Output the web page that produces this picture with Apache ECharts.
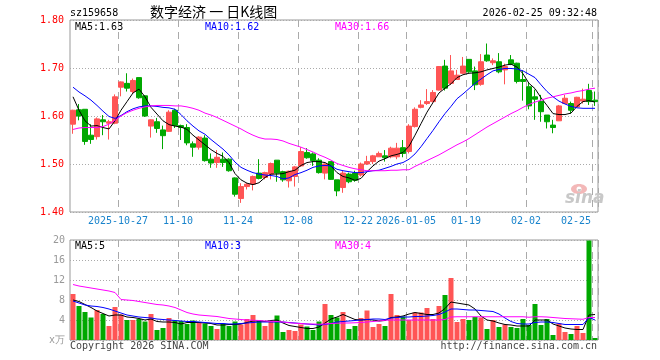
<!DOCTYPE html>
<html><head><meta charset="utf-8">
<script src="https://cdn.jsdelivr.net/npm/echarts@6/dist/echarts.min.js"></script>
<style>html,body{margin:0;padding:0;background:#fff;}#c{width:660px;height:360px;}</style>
</head><body><div id="c"></div>
<script>
const dates = ['2025-10-15','2025-10-16','2025-10-17','2025-10-20','2025-10-21','2025-10-22','2025-10-23','2025-10-24',
'2025-10-27','2025-10-28','2025-10-29','2025-10-30','2025-10-31','2025-11-03','2025-11-04','2025-11-05','2025-11-06','2025-11-07',
'2025-11-10','2025-11-11','2025-11-12','2025-11-13','2025-11-14','2025-11-17','2025-11-18','2025-11-19','2025-11-20','2025-11-21',
'2025-11-24','2025-11-25','2025-11-26','2025-11-27','2025-11-28','2025-12-01','2025-12-02','2025-12-03','2025-12-04','2025-12-05',
'2025-12-08','2025-12-09','2025-12-10','2025-12-11','2025-12-12','2025-12-15','2025-12-16','2025-12-17','2025-12-18','2025-12-19',
'2025-12-22','2025-12-23','2025-12-24','2025-12-25','2025-12-26','2025-12-29','2025-12-30','2025-12-31',
'2026-01-05','2026-01-06','2026-01-07','2026-01-08','2026-01-09','2026-01-12','2026-01-13','2026-01-14','2026-01-15','2026-01-16',
'2026-01-19','2026-01-20','2026-01-21','2026-01-22','2026-01-23','2026-01-26','2026-01-27','2026-01-28','2026-01-29','2026-01-30',
'2026-02-02','2026-02-03','2026-02-04','2026-02-05','2026-02-06','2026-02-09','2026-02-10','2026-02-11','2026-02-12','2026-02-13',
'2026-02-24','2026-02-25'];

const tickDates = ['2025-10-27','2025-11-10','2025-11-24','2025-12-08','2025-12-22','2026-01-05','2026-01-19','2026-02-02','2026-02-25'];
const tickLabels = ['2025-10-27','11-10','11-24','12-08','12-22','2026-01-05','01-19','02-02','02-25'];

const open  = [1.583,1.613,1.614,1.560,1.557,1.592,1.585,1.585,1.660,1.668, 1.651,1.680,1.642,1.579,1.588,1.571,1.568,1.612,1.580,1.576,
1.542,1.535,1.554,1.510,1.503,1.510,1.510,1.471,1.428,1.453, 1.458,1.481,1.472,1.479,1.508,1.484,1.465,1.474,1.496,1.524,
1.521,1.508,1.481,1.505,1.467,1.451,1.479,1.481,1.477,1.500, 1.505,1.515,1.517,1.515,1.515,1.534,1.526,1.578,1.618,1.626,
1.630,1.654,1.704,1.668,1.676,1.689,1.718,1.694,1.666,1.727, 1.711,1.713,1.696,1.717,1.710,1.676,1.661,1.640,1.630,1.602,
1.581,1.590,1.626,1.626,1.619,1.631,1.653,1.633];
const close = [1.612,1.600,1.547,1.551,1.594,1.588,1.588,1.640,1.671,1.658, 1.674,1.638,1.600,1.592,1.574,1.559,1.608,1.580,1.576,1.544,
1.535,1.556,1.507,1.502,1.514,1.503,1.486,1.437,1.453,1.458, 1.474,1.470,1.482,1.501,1.481,1.467,1.485,1.494,1.526,1.513,
1.507,1.482,1.500,1.468,1.444,1.481,1.463,1.466,1.500,1.505, 1.517,1.522,1.513,1.533,1.533,1.522,1.579,1.614,1.623,1.630,
1.649,1.703,1.658,1.694,1.685,1.704,1.692,1.665,1.713,1.715, 1.715,1.692,1.703,1.708,1.672,1.672,1.621,1.635,1.609,1.588,
1.576,1.621,1.637,1.612,1.639,1.635,1.630,1.630];
const low   = [1.563,1.591,1.540,1.542,1.551,1.560,1.551,1.583,1.641,1.651, 1.647,1.636,1.598,1.555,1.565,1.531,1.567,1.575,1.550,1.539,
1.515,1.530,1.505,1.492,1.492,1.494,1.484,1.432,1.419,1.447, 1.445,1.468,1.468,1.468,1.463,1.463,1.451,1.453,1.494,1.511,
1.496,1.480,1.468,1.467,1.433,1.440,1.460,1.463,1.474,1.498, 1.500,1.515,1.505,1.512,1.510,1.514,1.522,1.576,1.616,1.623,
1.628,1.653,1.653,1.665,1.675,1.688,1.690,1.654,1.663,1.713, 1.706,1.689,1.666,1.706,1.668,1.632,1.614,1.592,1.588,1.574,
1.564,1.590,1.625,1.605,1.618,1.626,1.623,1.621];
const high  = [1.613,1.625,1.614,1.583,1.597,1.602,1.592,1.645,1.672,1.689, 1.678,1.680,1.643,1.593,1.596,1.580,1.612,1.615,1.582,1.583,
1.547,1.558,1.560,1.522,1.529,1.524,1.512,1.472,1.460,1.460, 1.476,1.510,1.484,1.503,1.508,1.486,1.486,1.496,1.535,1.533,
1.524,1.512,1.501,1.505,1.467,1.486,1.482,1.486,1.503,1.517, 1.519,1.526,1.529,1.536,1.544,1.550,1.583,1.618,1.633,1.656,
1.654,1.704,1.717,1.727,1.696,1.723,1.718,1.703,1.729,1.751, 1.720,1.731,1.709,1.727,1.711,1.695,1.669,1.655,1.644,1.602,
1.592,1.623,1.644,1.630,1.640,1.657,1.667,1.651];

const ma5  = [1.640,1.612,1.590,1.579,1.580,1.576,1.573,1.590,1.612,1.630, 1.648,1.656,1.640,1.618,1.604,1.590,1.582,1.579,1.577,1.572,
1.560,1.550,1.540,1.530,1.522,1.516,1.503,1.480,1.467,1.460, 1.457,1.461,1.472,1.479,1.479,1.480,1.484,1.487,1.497,1.503,
1.505,1.505,1.503,1.496,1.482,1.474,1.471,1.466,1.470,1.484, 1.496,1.506,1.511,1.517,1.520,1.524,1.537,1.560,1.584,1.608,
1.628,1.648,1.658,1.667,1.680,1.686,1.689,1.690,1.692,1.696, 1.699,1.702,1.706,1.708,1.702,1.688,1.668,1.657,1.638,1.622,
1.605,1.603,1.603,1.606,1.620,1.630,1.632,1.629];
const ma10 = [1.660,1.650,1.642,1.633,1.622,1.610,1.599,1.595,1.601,1.609, 1.615,1.619,1.621,1.621,1.620,1.618,1.617,1.614,1.603,1.590,
1.579,1.569,1.562,1.551,1.541,1.531,1.519,1.504,1.493,1.487, 1.482,1.479,1.477,1.476,1.474,1.469,1.471,1.478,1.482,1.487,
1.493,1.496,1.497,1.496,1.489,1.486,1.484,1.482,1.482,1.484, 1.486,1.487,1.491,1.495,1.500,1.503,1.510,1.521,1.536,1.553,
1.570,1.588,1.605,1.620,1.636,1.646,1.657,1.668,1.677,1.686, 1.694,1.697,1.699,1.699,1.698,1.694,1.687,1.680,1.665,1.651,
1.640,1.631,1.625,1.620,1.617,1.616,1.616,1.616];
const ma30 = [1.572,1.575,1.576,1.576,1.576,1.578,1.583,1.591,1.600,1.607, 1.612,1.616,1.619,1.621,1.622,1.622,1.622,1.621,1.621,1.619,
1.616,1.612,1.606,1.602,1.597,1.591,1.585,1.579,1.573,1.566, 1.560,1.555,1.552,1.552,1.551,1.548,1.543,1.539,1.535,1.530,
1.525,1.519,1.514,1.508,1.501,1.497,1.493,1.490,1.488,1.486, 1.486,1.486,1.486,1.487,1.487,1.488,1.488,1.495,1.501,1.507,
1.513,1.519,1.526,1.533,1.540,1.546,1.553,1.561,1.569,1.577, 1.584,1.591,1.598,1.605,1.611,1.618,1.624,1.629,1.633,1.637,
1.640,1.643,1.646,1.648,1.651,1.653,1.656,1.658];

const volume = [9.2,6.8,5.6,4.5,6.0,5.2,2.8,6.6,5.1,4.0, 4.0,4.2,3.7,5.2,2.0,2.4,4.4,3.9,3.8,3.2,
3.9,3.5,3.3,2.8,2.2,3.3,2.8,3.7,3.1,4.2, 5.0,4.0,2.8,3.7,4.9,1.6,2.0,1.8,3.1,2.7,
2.0,3.7,7.2,5.0,4.5,5.6,2.2,2.8,4.4,5.9, 2.6,3.2,2.8,9.2,5.0,4.7,4.0,5.5,5.5,6.4,
4.2,6.8,9.0,12.4,3.6,4.2,4.0,4.6,4.5,2.2, 4.0,2.6,3.1,2.6,2.4,4.2,3.0,7.2,3.0,4.2,
1.0,3.3,1.6,1.2,2.8,1.4,19.9,0.4];
const vma5  = [8.0,7.7,7.1,6.5,5.8,5.3,4.8,5.0,5.0,4.6, 4.5,4.3,4.0,4.2,3.7,3.6,3.6,3.5,3.2,3.5,
3.5,3.5,3.4,3.3,3.0,3.0,3.1,3.1,3.2,3.5, 3.8,3.8,3.7,3.9,4.0,3.4,2.9,2.7,2.5,2.3,
2.3,2.6,3.4,4.2,4.6,5.1,4.6,4.1,4.0,4.1, 4.0,3.8,3.9,4.5,4.6,4.8,5.2,5.5,5.3,5.1,
5.1,5.4,6.3,7.6,7.4,7.2,7.0,6.2,4.8,4.0, 3.8,3.4,3.1,3.0,2.8,2.8,2.8,4.0,4.0,4.0,
3.2,2.8,2.4,2.2,2.1,2.1,5.0,5.1];
const vma10 = [7.8,7.4,7.0,6.8,6.7,6.5,6.2,5.8,5.4,5.0, 4.8,4.6,4.5,4.4,4.2,4.1,4.0,3.9,3.8,3.7,
3.7,3.6,3.5,3.4,3.3,3.3,3.2,3.2,3.3,3.4, 3.5,3.6,3.6,3.6,3.6,3.6,3.5,3.4,3.3,3.2,
3.1,3.0,3.1,3.3,3.6,3.7,3.8,3.9,4.0,4.1, 4.2,4.2,4.1,4.4,4.5,4.6,4.6,4.7,4.7,4.8,
4.9,5.1,5.6,6.2,6.2,6.1,6.0,6.0,5.9,5.8, 5.7,5.2,4.4,3.7,3.3,3.2,3.2,3.5,3.6,3.6,
3.5,3.3,3.1,3.1,3.1,3.1,4.5,4.0];
const vma30 = [11.1,10.8,10.6,10.4,10.2,10.0,9.8,9.5,8.1,8.0, 7.9,7.7,7.5,7.3,7.1,7.0,6.8,6.5,6.0,5.5,
5.2,5.0,4.9,4.8,4.7,4.5,4.3,4.2,4.1,4.0, 3.95,3.9,3.8,3.75,3.7,3.6,3.45,3.35,3.3,3.2,
3.2,3.15,3.2,3.3,3.35,3.4,3.4,3.45,3.5,3.6, 3.7,3.8,3.95,4.0,4.0,4.0,4.0,4.0,4.0,4.0,
4.0,4.0,4.1,4.6,4.65,4.65,4.65,4.65,4.65,4.65, 4.65,4.65,4.65,4.65,4.65,4.65,4.55,4.65,4.65,4.6,
4.5,4.4,4.3,4.25,4.2,4.15,4.5,4.5];

const maLabels = ['MA5:1.63','MA10:1.62','MA30:1.66'];
const volMaLabels = ['MA5:5','MA10:3','MA30:4'];

const UP = '#ff5555', DOWN = '#00a800';
const MONO = 'DejaVu Sans Mono';
const tickIdx = tickDates.map(d => dates.indexOf(d));
const lastIdx = dates.length - 1;

const kData = open.map((o, i) => [o, close[i], low[i], high[i]]);
const volData = volume.map((v, i) => ({ value: v, itemStyle: { color: close[i] >= open[i] ? UP : DOWN } }));

function line(name, data, color, xi) {
  return { name, type: 'line', data, xAxisIndex: xi, yAxisIndex: xi, symbol: 'none', smooth: false,
    lineStyle: { color, width: 1 }, z: 5, silent: true };
}

const chart = echarts.init(document.getElementById('c'), null, { renderer: 'canvas' });
const splitX = { show: true, interval: (i) => tickIdx.includes(i), lineStyle: { color: '#aaa', type: [7, 5], width: 1 } };
const gridStyle = { show: true, borderColor: '#999', borderWidth: 1, backgroundColor: '#fff' };

const txt = (text, x, y, fill, opts = {}) => ({ type: 'text', x, y, z: 100,
  style: Object.assign({ text, fill, font: '10px "' + MONO + '"', align: 'left', verticalAlign: 'middle' }, opts) });

chart.setOption({
  animation: false,
  backgroundColor: '#fff',
  grid: [
    Object.assign({ left: 70, top: 20, width: 528, height: 192 }, gridStyle),
    Object.assign({ left: 70, top: 240, width: 528, height: 100 }, gridStyle)
  ],
  xAxis: [
    { type: 'category', gridIndex: 0, data: dates, boundaryGap: true,
      axisLine: { show: false }, axisTick: { show: false }, splitLine: splitX,
      axisLabel: { show: true, interval: (i) => tickIdx.includes(i), margin: 4, color: '#1a84cc',
        fontFamily: MONO, fontSize: 10, hideOverlap: false,
        formatter: (v, i) => {
          const k = tickIdx.indexOf(i);
          if (k < 0) return '';
          return (i === lastIdx ? '{e|' : '{n|') + tickLabels[k] + '}';
        },
        rich: { n: { padding: [0, 6, 0, 0], color: '#1a84cc', fontFamily: MONO, fontSize: 10 },
                e: { padding: [0, 38, 0, 0], color: '#1a84cc', fontFamily: MONO, fontSize: 10 } } } },
    { type: 'category', gridIndex: 1, data: dates, boundaryGap: true,
      axisLine: { show: false }, axisTick: { show: false }, axisLabel: { show: false }, splitLine: splitX }
  ],
  yAxis: [
    { type: 'value', gridIndex: 0, min: 1.4, max: 1.8, interval: 0.1, scale: true,
      axisLine: { show: false }, axisTick: { show: false },
      axisLabel: { color: '#f00', fontFamily: MONO, fontSize: 10, margin: 6, formatter: v => v.toFixed(2) },
      splitLine: { show: true, lineStyle: { color: '#aaa', type: [1, 2], width: 1 } } },
    { type: 'value', gridIndex: 1, min: 0, max: 20, interval: 4,
      axisLine: { show: false }, axisTick: { show: false },
      axisLabel: { color: '#999', fontFamily: MONO, fontSize: 10, margin: 5, formatter: v => v === 0 ? 'x万' : String(v) },
      splitLine: { show: true, lineStyle: { color: '#aaa', type: [1, 2], width: 1 } } }
  ],
  series: [
    { name: 'K', type: 'candlestick', data: kData, xAxisIndex: 0, yAxisIndex: 0, barWidth: 5, silent: true,
      itemStyle: { color: UP, color0: DOWN, borderColor: UP, borderColor0: DOWN, borderWidth: 1 } },
    line('MA5', ma5, '#000', 0), line('MA10', ma10, '#0000ff', 0), line('MA30', ma30, '#ff00ff', 0),
    { name: 'VOL', type: 'bar', data: volData, xAxisIndex: 1, yAxisIndex: 1, barWidth: 5, silent: true },
    line('VMA5', vma5, '#000', 1), line('VMA10', vma10, '#0000ff', 1), line('VMA30', vma30, '#ff00ff', 1)
  ],
  graphic: [
    txt('sz159658', 70, 13, '#000'),
    txt('数字经济 一 日K线图', 150, 12, '#000', { font: '14px "Noto Sans CJK SC"' }),
    txt('2026-02-25 09:32:48', 597, 13, '#000', { align: 'right' }),
    txt(maLabels[0], 75, 27, '#000'),
    txt(maLabels[1], 205, 27, '#0000ff'),
    txt(maLabels[2], 335, 27, '#ff00ff'),
    txt(volMaLabels[0], 75, 246, '#000'),
    txt(volMaLabels[1], 205, 246, '#0000ff'),
    txt(volMaLabels[2], 335, 246, '#ff00ff'),
    txt('Copyright 2026 SINA.COM', 70, 346, '#444'),
    txt('http://finance.sina.com.cn', 597, 346, '#444', { align: 'right' }),
    { type: 'ellipse', shape: { cx: 579, cy: 189, rx: 8, ry: 5 }, style: { fill: '#f3b8b8' }, z: 1 },
    { type: 'circle', shape: { cx: 579, cy: 189, r: 2.5 }, style: { fill: '#fff' }, z: 2 },
    txt('sina', 565, 199, '#c8c8c8', { font: 'italic bold 17px "DejaVu Sans"', align: 'left' })
  ]
});
</script></body></html>
